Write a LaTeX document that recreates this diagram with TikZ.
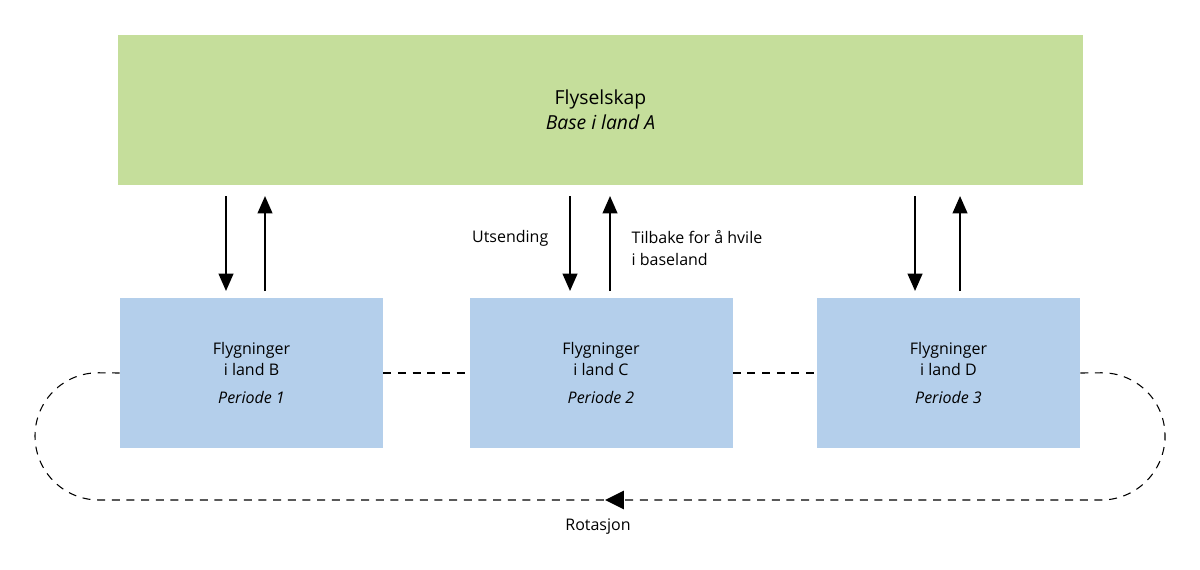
\documentclass[tikz,border=0pt]{standalone}
\usepackage{fontspec}
\setmainfont{Open Sans}
\usetikzlibrary{arrows.meta,positioning,calc,decorations.markings}
\definecolor{basegreen}{RGB}{197,222,155}
\definecolor{landblue}{RGB}{180,207,235}
\begin{document}
\begin{tikzpicture}[
    x=1pt, y=-1pt, scale=0.75,
    base/.style={rectangle, fill=basegreen, minimum width=723.75pt, minimum height=112.5pt, align=center, font=\fontsize{14.5}{19}\selectfont},
    land/.style={rectangle, fill=landblue, minimum width=197.25pt, minimum height=112.5pt, align=center, font=\fontsize{12}{16}\selectfont},
    arrow/.style={-{Triangle[length=13pt, width=11pt]}, line width=1.5pt},
    loop/.style={line width=0.8pt, dash pattern=on 6pt off 5pt},
    lbl/.style={font=\fontsize{12}{16}\selectfont, align=left}
]
\useasboundingbox (0,0) rectangle (1200,569);
\node[base] (flyselskap) at (600.5,110) {Flyselskap\\\textit{Base i land A}};

\node[land] (landB) at (251.5,373) {Flygninger\\i land B\\[5pt]\textit{Periode 1}};
\node[land] (landC) at (601,373) {Flygninger\\i land C\\[5pt]\textit{Periode 2}};
\node[land] (landD) at (948.5,373) {Flygninger\\i land D\\[5pt]\textit{Periode 3}};

% arrows up and down
\foreach \dx/\ux in {226/265, 570/610, 915/960} {
  \coordinate (d1) at (\dx,196);
  \coordinate (d2) at (\dx,291);
  \coordinate (u1) at (\ux,291);
  \coordinate (u2) at (\ux,196);
  \draw[arrow] (d1) -- (d2);
  \draw[arrow] (u1) -- (u2);
}
\node[lbl, anchor=east] (utsending) at (553,238) {Utsending};
\node[lbl, anchor=west] (tilbake) at (627,248) {Tilbake for å hvile\\i baseland};

% rotation loop
\draw[loop] (landB.east) -- (landC.west);
\draw[loop] (landC.east) -- (landD.west);
\coordinate (rotR) at (1165,372);
\coordinate (rotL) at (35,372);
\draw[loop, rounded corners=48pt,
  postaction={decorate, decoration={markings, mark=at position 0.49 with {\fill[solid, sharp corners] (7pt,0pt) -- (-7pt,-7pt) -- (-7pt,7pt) -- cycle;}}}]
  (landD.east) -- (rotR) -- (1165,500) -- (35,500) -- (rotL) -- (landB.west);
\node[lbl] (rotasjon) at (598,527) {Rotasjon};
\end{tikzpicture}
\end{document}
